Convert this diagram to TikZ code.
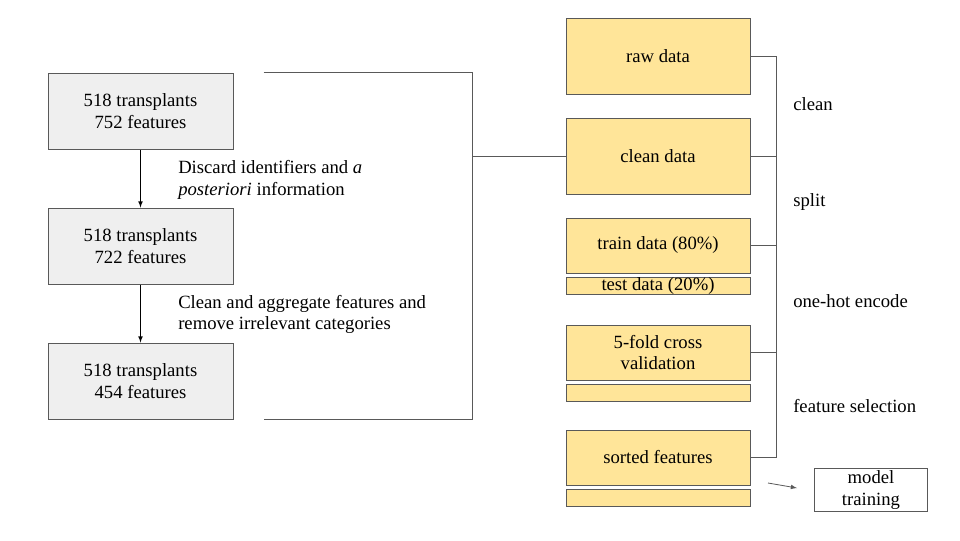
\documentclass[tikz,border=0pt]{standalone}
\usepackage{fontspec}
\setmainfont{Liberation Serif}
\usetikzlibrary{positioning,calc}
\definecolor{boxgray}{HTML}{EFEFEF}
\definecolor{boxyellow}{HTML}{FFE599}
\definecolor{edgegray}{HTML}{595959}

\begin{document}
\begin{tikzpicture}[x=0.75pt,y=-0.75pt,
        every node/.style={font=\fontsize{14}{16.3}\selectfont, inner sep=0pt, align=center},
        stagebox/.style={draw=edgegray, fill=boxgray, line width=0.75pt, minimum width=138.75pt, minimum height=57pt},
        databox/.style={draw=edgegray, fill=boxyellow, line width=0.75pt, minimum width=138pt, minimum height=#1},
        databox/.default=57pt,
        steplabel/.style={anchor=west, align=left}]
            \useasboundingbox (0,0) rectangle (960,540);

            % left column
            \node[stagebox] (s1) at (140.5,111) {518 transplants\\752 features};
            \node[stagebox] (s2) at (140.5,246) {518 transplants\\722 features};
            \node[stagebox] (s3) at (140.5,381) {518 transplants\\454 features};

            \draw[-latex, line width=0.6pt] (s1) -- (s2);
            \draw[-latex, line width=0.6pt] (s2) -- (s3);

            \node[steplabel] (l1) at (178,180) {Discard identifiers and \textit{a}\\\textit{posteriori} information};
            \node[steplabel] (l2) at (178,314.5) {Clean and aggregate features and\\remove irrelevant categories};

            % right column
            \node[databox] (raw) at (658,56) {raw data};
            \node[databox] (clean) at (658,156) {clean data};
            \node[databox=41.25pt] (train) at (658,245.5) {train data (80\%)};
            \node[databox=12.75pt] (test) at (658,286) {test data (20\%)};
            \node[databox=41.25pt] (cv) at (658,352.5) {5-fold cross\\validation};
            \node[databox=12.75pt] (cvrest) at (658,392.5) {};
            \node[databox=41.25pt] (sorted) at (658,457.5) {sorted features};
            \node[databox=12.75pt] (sortedrest) at (658,497.5) {};

            \node[draw=edgegray, line width=0.75pt, minimum width=84.75pt, minimum height=32.25pt, font=\fontsize{14}{16.5}\selectfont] (model) at (871,490) {model\\training};

            % brackets
            \draw[edgegray, line width=0.75pt] ($(s1.north east)+(30,0)$) -- ++(209,0) |- ($(s3.south east)+(30,0)$);
            \draw[edgegray, line width=0.75pt] (clean.west) -- ++(-94,0);

            \draw[edgegray, line width=0.75pt] (raw.east) -- ++(26,0) |- (sorted.east);
            \draw[edgegray, line width=0.75pt] (clean.east) -- ++(26,0);
            \draw[edgegray, line width=0.75pt] (train.east) -- ++(26,0);
            \draw[edgegray, line width=1.4pt] (cv.east) -- ++(26,0);

            \node[steplabel] (tclean) at (793,104) {clean};
            \node[steplabel] (tsplit) at (793,202.5) {split};
            \node[steplabel] (tonehot) at (793,301) {one-hot encode};
            \node[steplabel] (tselect) at (793,406) {feature selection};

            \coordinate (tail) at (768,483);
            \coordinate (tip) at (797,488);
            \draw[edgegray, -latex, line width=0.6pt] (tail) -- (tip);
        \end{tikzpicture}
\end{document}
